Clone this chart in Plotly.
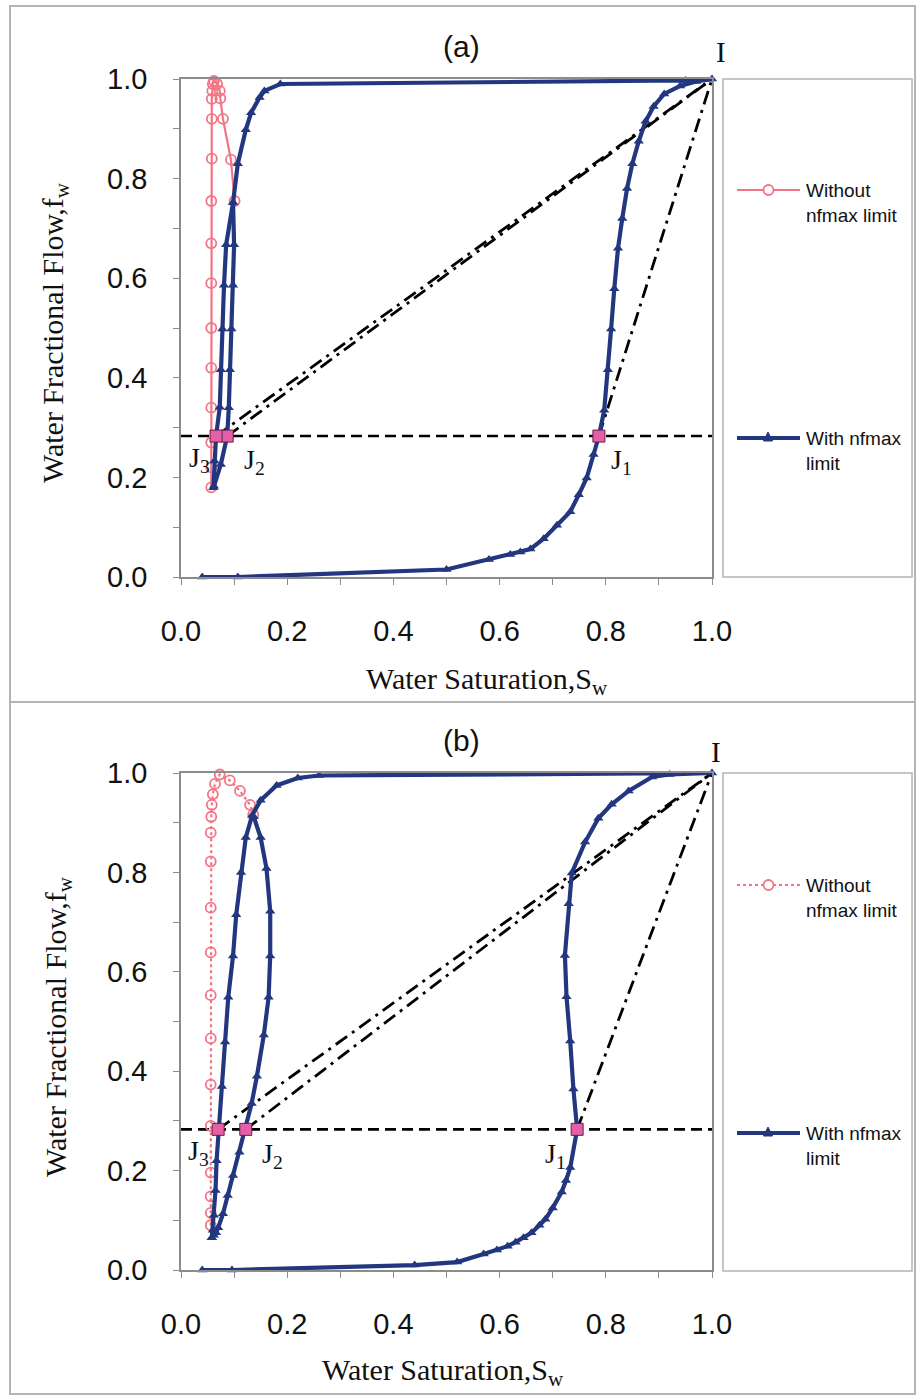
import plotly.graph_objects as go

W, H = 917, 1397

# ---------------- data: panel (a) ----------------
a_pink_sw = [0.057, 0.057, 0.057, 0.057, 0.057, 0.057, 0.057, 0.057, 0.057, 0.058, 0.058, 0.058, 0.059, 0.060,
             0.062, 0.068, 0.073, 0.074, 0.079, 0.094, 0.101]
a_pink_fw = [0.18, 0.22, 0.27, 0.34, 0.42, 0.50, 0.59, 0.67, 0.755, 0.84, 0.92, 0.96, 0.976, 0.99,
             0.996, 0.99, 0.976, 0.961, 0.92, 0.838, 0.755]

a_blue_main_sw = [0.04, 0.107, 0.50, 0.58, 0.62, 0.639, 0.658, 0.683, 0.708, 0.733, 0.749, 0.764, 0.777, 0.787,
                  0.797, 0.804, 0.810, 0.816, 0.823, 0.831, 0.840, 0.850, 0.862, 0.875, 0.890, 0.910, 0.94, 0.97, 1.0,
                  0.95, 0.187, 0.157, 0.148, 0.132, 0.122, 0.107, 0.098,
                  0.100, 0.098, 0.095, 0.092, 0.090, 0.087, 0.075, 0.062]
a_blue_main_fw = [0.0, 0.0, 0.015, 0.035, 0.045, 0.05, 0.056, 0.077, 0.104, 0.131, 0.165, 0.199, 0.246, 0.283,
                  0.335, 0.416, 0.498, 0.579, 0.66, 0.72, 0.78, 0.83, 0.875, 0.915, 0.945, 0.97, 0.986, 0.995, 1.0,
                  0.997, 0.99, 0.976, 0.963, 0.932, 0.898, 0.83, 0.752,
                  0.667, 0.586, 0.498, 0.416, 0.34, 0.283, 0.226, 0.182]
a_blue_left_sw = [0.098, 0.085, 0.081, 0.078, 0.075, 0.073, 0.066, 0.063, 0.061]
a_blue_left_fw = [0.752, 0.667, 0.586, 0.498, 0.416, 0.341, 0.283, 0.233, 0.179]

a_j_sw = [0.787, 0.087, 0.066]     # J1, J2, J3
a_j_fw = [0.283, 0.283, 0.283]

# ---------------- data: panel (b) ----------------
b_pink_sw = [0.056, 0.056, 0.056, 0.056, 0.056, 0.056, 0.056, 0.056, 0.056, 0.056, 0.056, 0.056, 0.057, 0.058,
             0.060, 0.064, 0.073, 0.092, 0.111, 0.130, 0.136]
b_pink_fw = [0.09, 0.115, 0.148, 0.196, 0.29, 0.373, 0.466, 0.553, 0.639, 0.729, 0.822, 0.88, 0.912, 0.936,
             0.957, 0.978, 0.997, 0.985, 0.964, 0.936, 0.916]

b_blue_main_sw = [0.04, 0.096, 0.44, 0.52, 0.57, 0.595, 0.615, 0.63, 0.645, 0.66, 0.675, 0.686, 0.70, 0.717, 0.725,
                  0.733, 0.746, 0.739, 0.733, 0.726, 0.723, 0.730, 0.736, 0.761, 0.786, 0.811, 0.843, 0.887, 0.92, 1.0,
                  0.26, 0.22, 0.18, 0.15, 0.134, 0.122, 0.113, 0.104, 0.098, 0.089, 0.083, 0.077, 0.070,
                  0.067, 0.065, 0.062, 0.060, 0.058]
b_blue_main_fw = [0.0, 0.0, 0.01, 0.016, 0.032, 0.04, 0.048, 0.056, 0.065, 0.075, 0.09, 0.102, 0.125, 0.157, 0.18,
                  0.206, 0.283, 0.364, 0.461, 0.55, 0.633, 0.737, 0.799, 0.861, 0.909, 0.937, 0.964, 0.992, 0.997, 1.0,
                  0.995, 0.99, 0.975, 0.945, 0.915, 0.87, 0.80, 0.715, 0.632, 0.549, 0.459, 0.369, 0.283,
                  0.22, 0.16, 0.11, 0.08, 0.065]
b_blue_loop_sw = [0.058, 0.062, 0.066, 0.070, 0.079, 0.088, 0.098, 0.110, 0.122, 0.133, 0.143, 0.156, 0.165, 0.168,
                  0.168, 0.161, 0.150, 0.137]
b_blue_loop_fw = [0.065, 0.07, 0.075, 0.085, 0.113, 0.15, 0.19, 0.237, 0.283, 0.335, 0.39, 0.473, 0.549, 0.632,
                  0.722, 0.808, 0.87, 0.912]

b_j_sw = [0.746, 0.122, 0.070]     # J1, J2, J3
b_j_fw = [0.283, 0.283, 0.283]

i_sw, i_fw = 1.0, 1.0
jline_fw = 0.283

x_ticks = [0.0, 0.2, 0.4, 0.6, 0.8, 1.0]
y_ticks = [0.0, 0.2, 0.4, 0.6, 0.8, 1.0]

# ---------------- styles ----------------
BLUE = "#22377F"
PINK = "#F27585"
JFILL = "#E45FA6"
GRAY = "#8C8C8C"
LGRAY = "#B4B4B4"
SANS = "Liberation Sans, Arial, sans-serif"
SERIF = "Liberation Serif, Times New Roman, serif"


def px_x(p):
    return p / W


def px_y(p):
    return 1 - p / H


fig = go.Figure()

panels = [
    dict(xa="x", ya="y", pink=(a_pink_sw, a_pink_fw), pinkdash="solid",
         blue=[(a_blue_main_sw, a_blue_main_fw), (a_blue_left_sw, a_blue_left_fw)], j=(a_j_sw, a_j_fw),
         jlab=[(23, -25), (27, -25), (-17, -23)], ilab=(9, 27)),
    dict(xa="x2", ya="y2", pink=(b_pink_sw, b_pink_fw), pinkdash="dot",
         blue=[(b_blue_main_sw, b_blue_main_fw), (b_blue_loop_sw, b_blue_loop_fw)], j=(b_j_sw, b_j_fw),
         jlab=[(-22, -26), (27, -26), (-20, -23)], ilab=(4, 21)),
]

annotations = []
for p in panels:
    xa, ya = p["xa"], p["ya"]
    # horizontal dashed line through J points
    fig.add_trace(go.Scatter(x=[0.0, 1.0], y=[jline_fw, jline_fw], mode="lines", xaxis=xa, yaxis=ya,
                             line=dict(color="black", width=2.6, dash="11px,6px"), showlegend=False,
                             hoverinfo="skip"))
    # dash-dot lines from J to I
    jsw, jfw = p["j"]
    for k in range(3):
        fig.add_trace(go.Scatter(x=[jsw[k], i_sw], y=[jfw[k], i_fw], mode="lines", xaxis=xa, yaxis=ya,
                                 line=dict(color="black", width=2.8, dash="14px,6px,3px,6px"),
                                 showlegend=False, hoverinfo="skip"))
    # pink
    psw, pfw = p["pink"]
    fig.add_trace(go.Scatter(x=psw, y=pfw, mode="lines+markers", xaxis=xa, yaxis=ya,
                             line=dict(color=PINK, width=2.2, dash=p["pinkdash"]),
                             marker=dict(symbol="circle-open", size=10, color=PINK, line=dict(width=1.8)),
                             showlegend=False, cliponaxis=False))
    # blue
    for bsw, bfw in p["blue"]:
        fig.add_trace(go.Scatter(x=bsw, y=bfw, mode="lines+markers", xaxis=xa, yaxis=ya,
                                 line=dict(color=BLUE, width=4.2),
                                 marker=dict(symbol="triangle-up", size=9, color=BLUE),
                                 showlegend=False, cliponaxis=False))
    # J squares
    fig.add_trace(go.Scatter(x=jsw, y=jfw, mode="markers", xaxis=xa, yaxis=ya,
                             marker=dict(symbol="square", size=12, color=JFILL,
                                         line=dict(color="#6B1E48", width=1)),
                             showlegend=False, cliponaxis=False))
    names = ["J<sub>1</sub>", "J<sub>2</sub>", "J<sub>3</sub>"]
    for k in range(3):
        dx, dy = p["jlab"][k]
        annotations.append(dict(x=jsw[k], y=jfw[k], xref=xa, yref=ya, text=names[k], showarrow=False,
                                xanchor="center", yanchor="middle",
                                xshift=dx, yshift=dy, font=dict(family=SERIF, size=28, color="#111")))
    annotations.append(dict(x=i_sw, y=i_fw, xref=xa, yref=ya, text="I", showarrow=False,
                            xanchor="center", yanchor="middle",
                            xshift=p["ilab"][0], yshift=p["ilab"][1],
                            font=dict(family=SERIF, size=29, color="#111")))

axis_common = dict(range=[0, 1], showgrid=False, zeroline=False, showline=True, mirror=True,
                   automargin=False,
                   linecolor=GRAY, linewidth=1.5, ticks="outside", ticklen=6, tickcolor=GRAY,
                   tickmode="array", tickformat=".1f",
                   minor=dict(dtick=0.1, tick0=0, ticks="outside", ticklen=6, tickcolor=GRAY),
                   tickfont=dict(family=SANS, size=29, color="#111"))

xdom = [px_x(181), px_x(712)]
ya_dom = [px_y(577), px_y(79)]
yb_dom = [px_y(1270), px_y(773)]

fig.update_layout(
    template="none",
    width=W, height=H, margin=dict(l=0, r=0, t=0, b=0, pad=0, autoexpand=False),
    paper_bgcolor="white", plot_bgcolor="white", showlegend=False,
    xaxis=dict(domain=xdom, anchor="y", tickvals=x_ticks, ticklabelstandoff=21, **axis_common),
    yaxis=dict(domain=ya_dom, anchor="x", tickvals=y_ticks, ticklabelstandoff=20, **axis_common),
    xaxis2=dict(domain=xdom, anchor="y2", tickvals=x_ticks, ticklabelstandoff=21, **axis_common),
    yaxis2=dict(domain=yb_dom, anchor="x2", tickvals=y_ticks, ticklabelstandoff=20, **axis_common),
)

shapes = []
# outer frames
for (t, b) in [(6, 702), (702, 1394)]:
    shapes.append(dict(type="rect", xref="paper", yref="paper", x0=px_x(10), x1=px_x(915),
                       y0=px_y(b), y1=px_y(t), line=dict(color=LGRAY, width=2)))
# legend boxes
for (t, b) in [(79, 577), (773, 1271)]:
    shapes.append(dict(type="rect", xref="paper", yref="paper", x0=px_x(723), x1=px_x(912),
                       y0=px_y(b), y1=px_y(t), line=dict(color=LGRAY, width=1.5)))

# legend samples
legend_items = [(190, "pink", "solid", "Without<br>nfmax limit"), (438, "blue", None, "With nfmax<br>limit"),
                (885, "pink", "dot", "Without<br>nfmax limit"), (1133, "blue", None, "With nfmax<br>limit")]
for (yy, kind, dash, txt) in legend_items:
    if kind == "pink":
        shapes.append(dict(type="line", xref="paper", yref="paper", x0=px_x(737), x1=px_x(800),
                           y0=px_y(yy), y1=px_y(yy), line=dict(color=PINK, width=2.2, dash=dash)))
        shapes.append(dict(type="circle", xref="paper", yref="paper", x0=px_x(763.5), x1=px_x(773.5),
                           y0=px_y(yy + 5), y1=px_y(yy - 5), line=dict(color=PINK, width=1.8),
                           fillcolor="white"))
    else:
        shapes.append(dict(type="line", xref="paper", yref="paper", x0=px_x(737), x1=px_x(800),
                           y0=px_y(yy), y1=px_y(yy), line=dict(color=BLUE, width=4.2)))
        path = "M {} {} L {} {} L {} {} Z".format(px_x(763.5), px_y(yy + 3), px_x(772.5), px_y(yy + 3),
                                                  px_x(768), px_y(yy - 6))
        shapes.append(dict(type="path", xref="paper", yref="paper", path=path, fillcolor=BLUE,
                           line=dict(color=BLUE, width=1)))
    annotations.append(dict(x=px_x(804), y=px_y(yy - 12), xref="paper", yref="paper", xanchor="left",
                            yanchor="top", align="left", text=txt, showarrow=False,
                            font=dict(family=SANS, size=19, color="#111")))

# titles
annotations.append(dict(x=px_x(462), y=px_y(47), xref="paper", yref="paper", text="(a)", showarrow=False,
                        xanchor="center", yanchor="middle", font=dict(family=SANS, size=30, color="#111")))
annotations.append(dict(x=px_x(462), y=px_y(740), xref="paper", yref="paper", text="(b)", showarrow=False,
                        xanchor="center", yanchor="middle", font=dict(family=SANS, size=30, color="#111")))
# axis titles
for (cx, cy) in [(55, 333), (58, 1027)]:
    annotations.append(dict(x=px_x(cx), y=px_y(cy), xref="paper", yref="paper",
                            text="Water Fractional Flow,f<sub>w</sub>", showarrow=False, textangle=-90,
                            xanchor="center", yanchor="middle",
                            font=dict(family=SERIF, size=30, color="#111")))
for (cx, cy) in [(487, 681), (443, 1372)]:
    annotations.append(dict(x=px_x(cx), y=px_y(cy), xref="paper", yref="paper",
                            text="Water Saturation,S<sub>w</sub>", showarrow=False,
                            xanchor="center", yanchor="middle",
                            font=dict(family=SERIF, size=30, color="#111")))

fig.update_layout(shapes=shapes, annotations=annotations)
fig.write_html("out.html")
